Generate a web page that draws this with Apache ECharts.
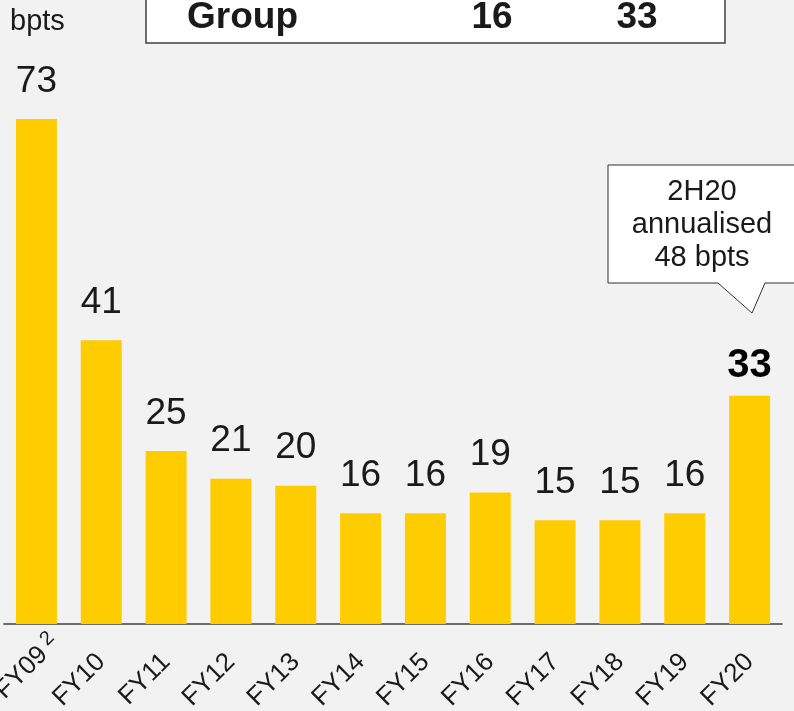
<!DOCTYPE html>
<html>
<head>
<meta charset="utf-8">
<script src="https://cdn.jsdelivr.net/npm/echarts@6/dist/echarts.min.js"></script>
<style>
  html, body { margin: 0; padding: 0; background: #f2f2f2; }
  #chart1 { width: 794px; height: 711px; }
</style>
</head>
<body>
<div id="chart1"></div>
<script>
// 初始化echarts实例
let chart1 = echarts.init(document.getElementById('chart1'));

// 年份和数值 (bpts)
let categories = ['FY09', 'FY10', 'FY11', 'FY12', 'FY13', 'FY14', 'FY15', 'FY16', 'FY17', 'FY18', 'FY19', 'FY20'];
let values = [73, 41, 25, 21, 20, 16, 16, 19, 15, 15, 16, 33];

// 顶部表格和标注文字
let groupRow = ['Group', '16', '33'];
let calloutLines = ['2H20', 'annualised', '48 bpts'];

let font = "'Liberation Sans', Arial, sans-serif";
let ink = '#1a1a1a';

// 最后一根柱子标签加粗
let data = values.map(function (v, i) {
    if (i === values.length - 1) {
        return {
            value: v,
            label: { fontSize: 40, fontWeight: 'bold', distance: 10, color: '#000' }
        };
    }
    return v;
});

// FY09 带上标，上标悬在刻度外
let axisData = categories.map(function (c, i) {
    if (i === 0) {
        return { value: c, textStyle: { padding: [0, -27, 0, 0] } };
    }
    return c;
});

let option = {
    backgroundColor: '#f2f2f2',
    textStyle: { fontFamily: font },
    animation: false,
    grid: { left: 4, right: 12, top: 119, bottom: 87, outerBoundsMode: 'none', containLabel: false },
    xAxis: {
        type: 'category',
        data: axisData,
        axisLine: { lineStyle: { color: '#404040', width: 1.5 } },
        axisTick: { show: false },
        axisLabel: {
            rotate: 45,
            interval: 0,
            margin: 34,
            fontSize: 26,
            fontFamily: font,
            color: ink,
            formatter: function (v, i) {
                return i === 0 ? v + '{sup| 2}' : v;
            },
            rich: {
                sup: { fontSize: 20, fontFamily: font, verticalAlign: 'top', color: ink, padding: [0, 0, 12, 0] }
            }
        }
    },
    yAxis: {
        type: 'value',
        min: 0,
        max: 73,
        show: false
    },
    graphic: [
        {
            type: 'text', left: 10, top: 7,
            style: { text: 'bpts', fontSize: 29, fill: ink, fontFamily: font }
        },
        {
            type: 'rect',
            shape: { x: 146, y: -5, width: 579, height: 48 },
            style: { fill: '#fff', stroke: '#404040', lineWidth: 1.5 }
        },
        {
            type: 'text', x: 187, y: 18,
            style: { text: groupRow[0], fontSize: 37, fontWeight: 'bold', fill: ink, fontFamily: font, verticalAlign: 'middle' }
        },
        {
            type: 'text', x: 492, y: 18,
            style: { text: groupRow[1], fontSize: 37, fontWeight: 'bold', fill: ink, fontFamily: font, align: 'center', verticalAlign: 'middle' }
        },
        {
            type: 'text', x: 637, y: 18,
            style: { text: groupRow[2], fontSize: 37, fontWeight: 'bold', fill: ink, fontFamily: font, align: 'center', verticalAlign: 'middle' }
        },
        {
            type: 'polygon',
            shape: { points: [[608, 165], [800, 165], [800, 283], [765, 283], [752, 313], [718, 283], [608, 283]] },
            style: { fill: '#fff', stroke: '#333', lineWidth: 1 }
        },
        {
            type: 'text', x: 702, y: 225,
            style: {
                text: calloutLines.join('\n'),
                fontSize: 29, lineHeight: 33, fill: ink, fontFamily: font,
                align: 'center', verticalAlign: 'middle'
            }
        }
    ],
    series: [{
        type: 'bar',
        barWidth: 41,
        itemStyle: { color: '#ffcc00' },
        label: {
            show: true,
            position: 'top',
            distance: 19,
            fontSize: 37,
            fontFamily: font,
            color: ink
        },
        data: data
    }]
};
window.onresize = chart1.resize;
chart1.setOption(option);
</script>
</body>
</html>
